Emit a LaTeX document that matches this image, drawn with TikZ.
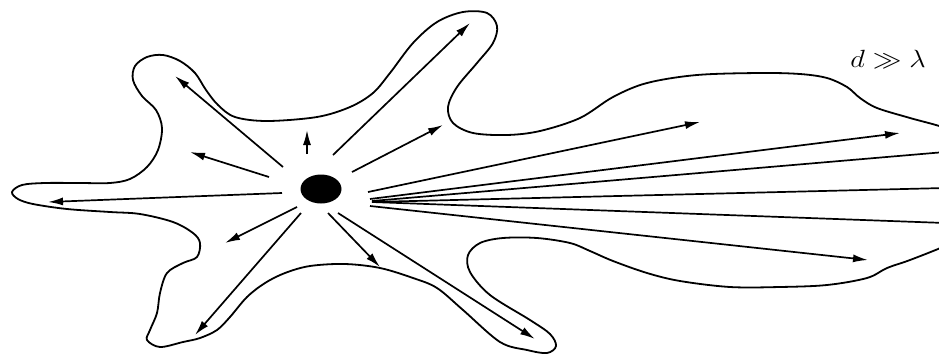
\documentclass[tikz,border=0pt]{standalone}
\usetikzlibrary{arrows.meta}
\begin{document}
\begin{tikzpicture}[x=1pt,y=-1pt,
  outline/.style={line width=1.8pt,line join=round},
  ray/.style={line width=1.7pt,-{Latex[length=15pt,width=8pt]}},
  plainray/.style={line width=1.7pt}]
\useasboundingbox (0,0) rectangle (939,354);
\clip (0,0) rectangle (939,354);
% outline of the region
\draw[outline] plot[smooth cycle,tension=0.55] coordinates {
(12,192) (22,185) (45,183) (80,183) (110,183) (130,179) (147,167) (158,150)
(162,128) (156,110) (142,96) (133,80) (135,66) (147,57) (163,55) (180,61)
(195,73) (206,90) (218,105) (235,117) (267,121) (317,117) (350,107) (373,93)
(390,73) (413,43) (437,22) (463,12) (487,13) (497,26) (493,43) (477,63)
(457,87) (448,107) (453,123) (473,133) (507,135) (540,131) (580,118) (613,97)
(647,83) (697,75) (760,73) (800,74) (827,78) (847,87) (860,98) (877,108)
(910,118) (945,128) (965,140) (965,235) (945,246) (910,260) (887,268)
(867,278) (827,285) (780,287) (730,287) (680,281) (647,273) (613,261)
(590,251) (570,243) (537,238) (503,238) (480,243) (468,255) (470,272)
(490,295) (530,320) (550,334) (556,346) (547,353) (527,350) (500,342)
(463,310) (437,288) (413,278) (380,268) (345,264) (310,266) (285,273)
(265,283) (247,297) (230,317) (217,330) (200,338) (183,342) (160,347)
(147,340) (150,330) (157,313) (160,293) (167,273) (183,263) (197,257)
(200,243) (193,233) (173,222) (140,214) (110,212) (67,209) (33,204) (18,199)};
% source
\fill (321,189) ellipse [x radius=20.5, y radius=14.5];
\node[inner sep=0pt] (src) at (321,189) {};
% rays
\draw[ray] (282,193) -- (48,202);
\draw[ray] (269,177) -- (190,152);
\draw[ray] (283,167) -- (175,76);
\draw[ray] (307,154) -- (307,130);
\draw[ray] (333,155) -- (470,23);
\draw[ray] (352,172) -- (443,125);
\draw[ray] (368,192) -- (700,122);
\draw[ray] (370,199) -- (900,133);
\draw[plainray] (372,201) -- (945,152);
\draw[plainray] (372,202) -- (945,188);
\draw[plainray] (372,202) -- (945,223);
\draw[ray] (370,206) -- (868,260);
\draw[ray] (297,207) -- (225,243);
\draw[ray] (301,213) -- (195,335);
\draw[ray] (328,213) -- (380,267);
\draw[ray] (338,213) -- (535,339);
% label
\node[anchor=base,inner sep=0pt,font=\fontsize{24}{28}\selectfont,xscale=1.15] (lbl) at (888,67) {$d\gg\lambda$};
\end{tikzpicture}
\end{document}
